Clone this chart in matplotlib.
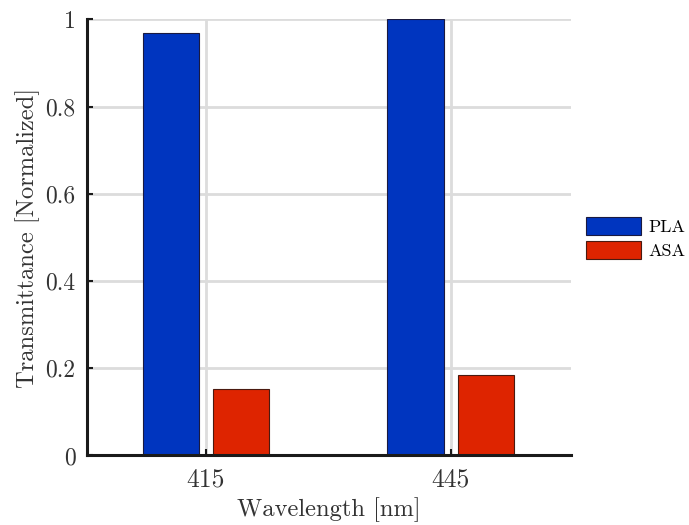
import matplotlib
matplotlib.use("Agg")
import matplotlib.pyplot as plt
import numpy as np

plt.rcParams['font.family'] = ['cmr10', 'DejaVu Serif']
plt.rcParams['axes.formatter.use_mathtext'] = True
plt.rcParams['mathtext.fontset'] = 'cm'

wavelengths = ["415", "445"]
series_names = ["PLA", "ASA"]
pla_values = [0.968, 1.0]
asa_values = [0.153, 0.185]
y_ticks = [0, 0.2, 0.4, 0.6, 0.8, 1.0]
y_tick_labels = ["0", "0.2", "0.4", "0.6", "0.8", "1"]

colors = ["#0035BF", "#DE2400"]

fig = plt.figure(figsize=(6.89, 5.25), dpi=100)
ax = fig.add_axes([0.1258, 0.1324, 0.7025, 0.8305])

x = np.arange(len(wavelengths))
width = 0.23
offset = 0.143
ax.bar(x - offset, pla_values, width, color=colors[0], edgecolor="#1a1a40",
       linewidth=0.8, label=series_names[0], zorder=3)
ax.bar(x + offset, asa_values, width, color=colors[1], edgecolor="#4a1a10",
       linewidth=0.8, label=series_names[1], zorder=3)

ax.set_xlim(-0.486, 1.49)
ax.set_ylim(0, 1)
ax.set_xticks(x)
ax.set_xticklabels(wavelengths)
ax.set_yticks(y_ticks)
ax.set_yticklabels(y_tick_labels)

ax.grid(True, color="#DCDCDC", linewidth=2.0, zorder=0)
ax.set_axisbelow(True)

for side in ("top", "right"):
    ax.spines[side].set_visible(False)
for side in ("left", "bottom"):
    ax.spines[side].set_linewidth(2.2)
    ax.spines[side].set_color("#1a1a1a")
    ax.spines[side].set_zorder(4)

ax.tick_params(axis="both", direction="in", length=4, width=1.5,
               colors="#1a1a1a", labelcolor="#333333")
ax.tick_params(axis="x", pad=9, labelsize=18.5)
ax.tick_params(axis="y", pad=8, labelsize=17)

ax.set_xlabel("Wavelength [nm]", fontsize=17.7, color="#333333", labelpad=4)
ax.set_ylabel("Transmittance [Normalized]", fontsize=17.7, color="#333333",
              labelpad=4)

leg = ax.legend(loc="center left", bbox_to_anchor=(1.032, 0.498), frameon=False,
                fontsize=13, handlelength=3.05, handleheight=1.16,
                handletextpad=0.39, labelspacing=0.33, borderaxespad=0,
                borderpad=0)

fig.savefig("out.png", dpi=100)
